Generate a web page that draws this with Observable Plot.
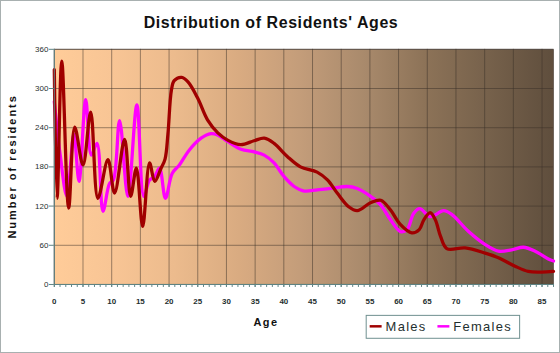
<!DOCTYPE html>
<html><head><meta charset="utf-8">
<script src="https://cdn.jsdelivr.net/npm/d3@7"></script>
<script src="https://cdn.jsdelivr.net/npm/@observablehq/plot@0.6"></script>
<style>
html,body{margin:0;padding:0;background:#fff;}
#wrap{position:relative;width:558px;height:351px;border:1px solid #a8b0b0;overflow:hidden;font-family:"Liberation Sans",Arial,sans-serif;}
#wrap svg{position:absolute;left:-1px;top:-1px;}
</style>
</head><body>
<div id="wrap"></div>
<script>
const title = "Distribution of Residents' Ages";
const xLabel = "Age";
const yLabel = "Number of residents";
const seriesNames = ["Males", "Females"];
const xTicks = [0,5,10,15,20,25,30,35,40,45,50,55,60,65,70,75,80,85];
const yTicks = [0,60,120,180,240,300,360];

const maleAges = [0,0.49,1.3,2.5,3.56,5.0,6.34,7.6,9.35,10.5,12.25,13.3,14.3,15.4,16.6,17.5,18.6,19.3,19.8,20.4,20.9,22.2,23.3,25.0,26.7,28.5,30.2,32.5,34.8,36.6,38.3,40.6,42.9,45.8,47.6,49.3,51.3,52.8,55.1,56.9,58.6,60.3,62.3,63.6,64.4,65.5,66.4,67.3,68.4,71.6,75.1,77.4,80.3,82.6,84.9,87];
const maleCounts = [329,132,342,117,241,183,264,132,191,140,222,135,178,89,186,158,178,192,230,297,312,317,310,285,252,232,221,214,220,224,216,196,180,172,160,140,119,113,125,129,114,92,79,84,99,110,99,74,55,56,48,41,28,20,19,20];

const femaleAges = [0,1.0,2.2,3.4,4.31,5.47,6.46,7.44,8.48,9.64,10.3,11.38,12.82,14.39,15.6,16.6,17.46,18.33,19.37,20.54,21.8,23.54,25.58,27.3,28.46,30.2,32.53,34.84,36.58,38.3,40.05,41.8,43.54,45.84,48.17,51.05,52.79,55.12,56.86,58.59,60.33,61.48,62.64,63.68,65.54,67.85,69.3,72.2,75.1,77.4,79.7,81.75,83.8,86.1,87];
const femaleCounts = [280,200,135,230,158,283,198,216,112,155,160,251,135,275,135,160,165,178,132,170,183,206,224,231,229,219,207,203,198,186,165,150,143,145,147,150,147,135,122,99,81,84,109,116,104,113,107,81,61,51,53,57,51,39,36];

const males = maleAges.map((a,i)=>({age:a, count:maleCounts[i]}));
const females = femaleAges.map((a,i)=>({age:a, count:femaleCounts[i]}));
const minorTicks = d3.range(0, 88, 1);

function gradientDefs() {
  const ns = "http://www.w3.org/2000/svg";
  const defs = document.createElementNS(ns, "defs");
  const lg = document.createElementNS(ns, "linearGradient");
  lg.setAttribute("id", "bgGrad");
  lg.setAttribute("x1", "0"); lg.setAttribute("x2", "1");
  lg.setAttribute("y1", "0"); lg.setAttribute("y2", "0");
  [[0,"#FFCC99"],[0.115,"#F8C595"],[0.24,"#ECBB8D"],[0.37,"#D9AB81"],[0.49,"#C49D7A"],
   [0.62,"#A98A6C"],[0.74,"#8D7358"],[0.87,"#76614B"],[1,"#5F4E3D"]].forEach(([o,c])=>{
    const s = document.createElementNS(ns, "stop");
    s.setAttribute("offset", o); s.setAttribute("stop-color", c);
    lg.appendChild(s);
  });
  defs.appendChild(lg);
  return defs;
}

const axisColor = "#5f8585";
const chart = Plot.plot({
  width: 560, height: 353,
  marginLeft: 54, marginRight: 5, marginTop: 49, marginBottom: 68,
  style: {background: "transparent", fontFamily: "'Liberation Sans', Arial, sans-serif", overflow: "visible"},
  x: {domain: [0, 87]},
  y: {domain: [0, 360]},
  marks: [
    gradientDefs,
    Plot.frame({fill: "url(#bgGrad)"}),
    Plot.gridX(xTicks, {stroke: "#3a3028", strokeOpacity: 0.5, strokeWidth: 1}),
    Plot.gridY(yTicks, {stroke: "#3a3028", strokeOpacity: 0.5, strokeWidth: 1}),
    Plot.frame({stroke: "#3a3028", strokeOpacity: 0.55}),
    Plot.line(females, {x: "age", y: "count", stroke: "#ff00ff", strokeWidth: 3.3, curve: "catmull-rom"}),
    Plot.line(males, {x: "age", y: "count", stroke: "#a00000", strokeWidth: 3.3, curve: "catmull-rom"}),
    Plot.ruleX([0], {stroke: axisColor}),
    Plot.ruleY([0], {stroke: axisColor}),
    Plot.axisY(yTicks, {tickSize: 5, tickPadding: 1, fontSize: 8, stroke: axisColor, fill: "#1f2f2f", label: null}),
    Plot.axisX(minorTicks, {tickSize: 3, stroke: axisColor, text: null, label: null}),
    Plot.axisX(xTicks, {tickSize: 3, tickPadding: 11, fontSize: 8, fontWeight: "bold", stroke: axisColor, fill: "#1f2f2f", label: null})
  ]
});
document.getElementById("wrap").appendChild(chart);

const svg = d3.select(chart);
svg.append("text").attr("x", 272).attr("y", 28.5).attr("text-anchor", "middle")
  .attr("font-size", 16).attr("font-weight", "bold").attr("letter-spacing", "0.6px").attr("fill", "#111").text(title);
svg.append("text").attr("x", 267).attr("y", 327.5).attr("text-anchor", "middle")
  .attr("font-size", 11).attr("font-weight", "bold").attr("letter-spacing", "1.5px").attr("fill", "#111").text(xLabel);
svg.append("text").attr("transform", "translate(16.5,167) rotate(-90)").attr("text-anchor", "middle")
  .attr("font-size", 11).attr("font-weight", "bold").attr("letter-spacing", "2px").attr("fill", "#111").text(yLabel);

const lg = svg.append("g");
lg.append("rect").attr("x", 367.5).attr("y", 316.5).attr("width", 154).attr("height", 23)
  .attr("fill", "none").attr("stroke", "#6f9090");
const legendColors = ["#a00000", "#ff00ff"];
const legendX = [371, 439];
seriesNames.forEach((n, i) => {
  lg.append("line").attr("x1", legendX[i]).attr("x2", legendX[i] + 12).attr("y1", 327.5).attr("y2", 327.5)
    .attr("stroke", legendColors[i]).attr("stroke-width", 2.5);
  lg.append("text").attr("x", legendX[i] + 16).attr("y", 332).attr("text-anchor", "start").attr("font-size", 13)
    .attr("letter-spacing", "1.3px").attr("fill", "#1f3030").text(n);
});
</script>
</body></html>
